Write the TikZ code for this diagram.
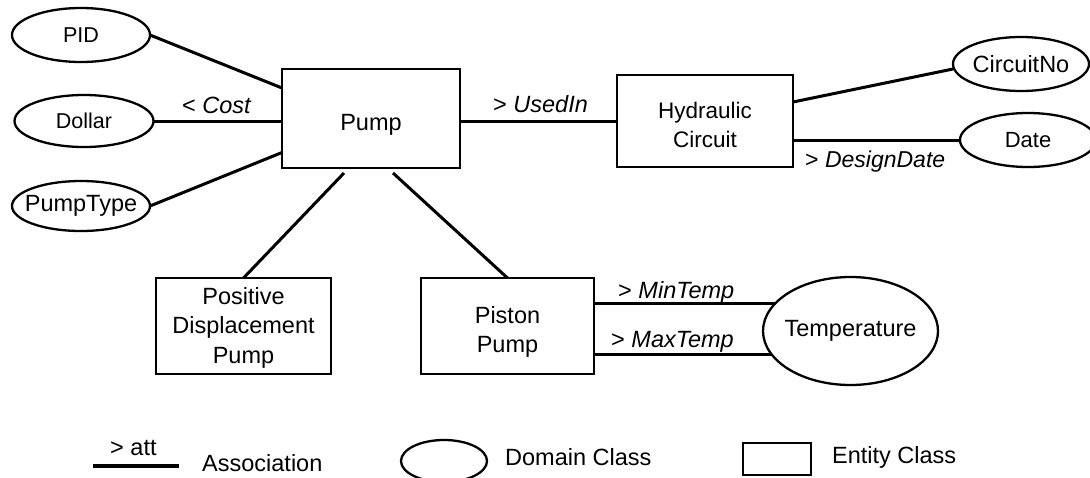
\documentclass[tikz,border=0pt]{standalone}
\usepackage{fontspec}
\setmainfont{Liberation Sans}
\usetikzlibrary{shapes.geometric}
\newcommand{\dgfont}{\fontsize{23.5}{29.5}\selectfont}
\newcommand{\dgsmall}{\fontsize{21.5}{26}\selectfont}
\begin{document}
\begin{tikzpicture}[x=1pt,y=-1pt,
  entcls/.style={draw, line width=2.8pt, rectangle, inner sep=0pt, outer sep=0pt},
  domcls/.style={draw, line width=2.3pt, ellipse, inner sep=0pt, outer sep=0pt, font=\dgfont},
  txt/.style={inner sep=0pt, align=center, font=\dgfont},
  assoc/.style={line width=3pt},
  lbl/.style={inner sep=0pt, anchor=base west, font=\dgfont},
]
\clip (0,0) rectangle (1090,477);
\fill[white] (0,0) rectangle (1090,477);

% domain classes (left)
\node[domcls, font=\dgsmall, minimum width=138pt, minimum height=54pt] (pid) at (81,35) {\makebox[0pt]{PID}};
\node[domcls, font=\dgsmall, minimum width=139pt, minimum height=52pt] (dollar) at (84,121) {\makebox[0pt]{Dollar}};
\node[domcls, minimum width=138pt, minimum height=50pt] (ptype) at (81,206) {\makebox[0pt]{PumpType}};

% entity classes
\node[entcls, minimum width=178pt, minimum height=99pt] (pump) at (371,118.5) {};
\node[txt] (pumpt) at (371,125) {Pump};
\node[entcls, minimum width=176pt, minimum height=92pt] (hyd) at (705,121) {};
\node[txt, font=\fontsize{22.5}{29}\selectfont] (hydt) at (705,124.5) {Hydraulic\\Circuit};
\node[entcls, minimum width=175pt, minimum height=96pt] (pdp) at (243.5,326) {};
\node[txt] (pdpt) at (243.5,327.5) {Positive\\Displacement\\Pump};
\node[entcls, minimum width=173pt, minimum height=96pt] (piston) at (507.5,326) {};
\node[txt] (pistont) at (507.5,332) {Piston\\Pump};

% domain classes (right)
\node[domcls, minimum width=136pt, minimum height=54pt] (circ) at (1021,64) {\makebox[0pt]{CircuitNo}};
\node[domcls, font=\fontsize{22}{26}\selectfont, minimum width=136pt, minimum height=54pt] (date) at (1028,140) {\makebox[0pt]{Date}};
\node[domcls, minimum width=175pt, minimum height=108pt] (temp) at (850.5,331) {\makebox[0pt]{Temperature}};

% associations
\draw[assoc] (pid.east) -- ([yshift=30.5pt]pump.west);
\draw[assoc] (dollar.east) -- (dollar.east -| pump.west);
\draw[assoc] (ptype.east) -- ([yshift=-34pt]pump.west);
\draw[assoc] ([xshift=-27pt,yshift=-5pt]pump.south) -- (pdp.north);
\draw[assoc] ([xshift=22pt,yshift=-5pt]pump.south) -- (piston.north);
\draw[assoc] (pump.east |- hyd.west) -- (hyd.west);
\draw[assoc] ([yshift=19pt]hyd.east) -- ([yshift=-5pt]circ.west);
\draw[assoc] (hyd.east |- date.west) -- (date.west);
\draw[assoc] (piston.east |- temp.160) -- (temp.160);
\draw[assoc] (piston.east |- temp.197) -- (temp.197);

% association labels
\node[lbl] (lcost) at (182,113) {< \textit{Cost}};
\node[lbl] (lused) at (493,112) {> \textit{UsedIn}};
\node[lbl, font=\fontsize{23}{28}\selectfont] (ldd) at (805,167) {> \textit{DesignDate}};
\node[lbl] (lmin) at (618,298) {> \textit{MinTemp}};
\node[lbl] (lmax) at (611,347) {> \textit{MaxTemp}};

% legend
\coordinate (la) at (93,466);
\coordinate (lb) at (179,466);
\draw[line width=4pt] (la) -- (lb);
\node[lbl] (latt) at (110,455) {> att};
\node[lbl] (lassoc) at (202,471) {Association};
\node[domcls, minimum width=86pt, minimum height=42pt] (ldom) at (444,461) {};
\node[lbl] (ldomt) at (505,465) {Domain Class};
\node[entcls, minimum width=68pt, minimum height=32pt] (lent) at (777,459) {};
\node[lbl] (lentt) at (832,463) {Entity Class};
\end{tikzpicture}
\end{document}
